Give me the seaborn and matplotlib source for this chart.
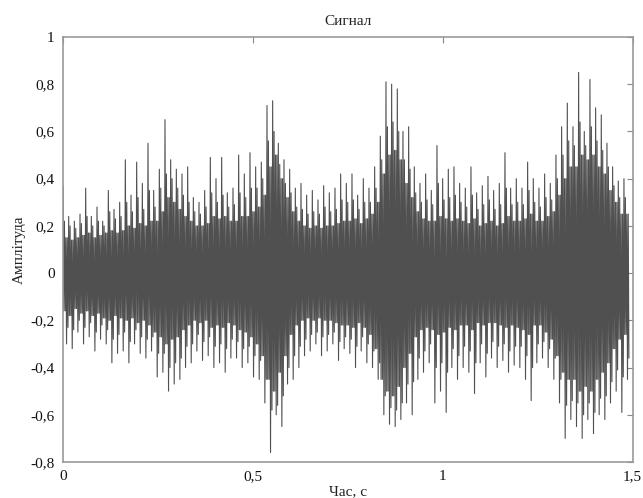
import numpy as np
import pandas as pd
import matplotlib
matplotlib.use("Agg")
import matplotlib.pyplot as plt
import seaborn as sns

# envelope of the signal, one value per 0.015 s
peak_hi = [0.37, 0.24, 0.22, 0.25, 0.36, 0.24, 0.28, 0.22, 0.35, 0.27,
           0.30, 0.48, 0.33, 0.47, 0.38, 0.55, 0.35, 0.44, 0.65, 0.48,
           0.44, 0.42, 0.45, 0.32, 0.30, 0.35, 0.49, 0.40, 0.49, 0.34,
           0.36, 0.50, 0.42, 0.51, 0.45, 0.47, 0.71, 0.73, 0.55, 0.48,
           0.44, 0.36, 0.38, 0.33, 0.35, 0.31, 0.37, 0.34, 0.36, 0.42,
           0.38, 0.42, 0.33, 0.40, 0.36, 0.45, 0.58, 0.81, 0.80, 0.78,
           0.60, 0.62, 0.45, 0.38, 0.42, 0.35, 0.54, 0.40, 0.44, 0.45,
           0.38, 0.36, 0.45, 0.34, 0.37, 0.41, 0.35, 0.38, 0.51, 0.36,
           0.40, 0.36, 0.47, 0.40, 0.36, 0.42, 0.38, 0.50, 0.62, 0.72,
           0.62, 0.85, 0.60, 0.82, 0.70, 0.67, 0.55, 0.45, 0.39, 0.40]
peak_lo = [-0.30, -0.32, -0.25, -0.30, -0.27, -0.33, -0.28, -0.30, -0.38, -0.34,
           -0.33, -0.38, -0.30, -0.34, -0.36, -0.33, -0.44, -0.42, -0.50, -0.47,
           -0.45, -0.40, -0.38, -0.33, -0.37, -0.35, -0.40, -0.38, -0.42, -0.36,
           -0.36, -0.40, -0.38, -0.44, -0.45, -0.55, -0.76, -0.60, -0.65, -0.47,
           -0.45, -0.40, -0.35, -0.33, -0.30, -0.35, -0.33, -0.30, -0.37, -0.32,
           -0.34, -0.40, -0.33, -0.38, -0.40, -0.45, -0.60, -0.64, -0.65, -0.62,
           -0.55, -0.60, -0.45, -0.42, -0.38, -0.55, -0.50, -0.59, -0.40, -0.45,
           -0.40, -0.42, -0.51, -0.38, -0.44, -0.36, -0.40, -0.37, -0.42, -0.39,
           -0.40, -0.45, -0.54, -0.38, -0.36, -0.40, -0.45, -0.55, -0.70, -0.62,
           -0.65, -0.70, -0.62, -0.68, -0.60, -0.62, -0.55, -0.50, -0.59, -0.45]
# second-tallest spikes in each slice
mid_hi = [0.22, 0.20, 0.19, 0.21, 0.24, 0.20, 0.22, 0.20, 0.26, 0.23,
          0.24, 0.30, 0.26, 0.32, 0.27, 0.35, 0.28, 0.36, 0.42, 0.40,
          0.36, 0.33, 0.30, 0.26, 0.25, 0.28, 0.34, 0.30, 0.33, 0.28,
          0.29, 0.34, 0.32, 0.36, 0.36, 0.40, 0.56, 0.60, 0.46, 0.38,
          0.34, 0.28, 0.27, 0.25, 0.26, 0.25, 0.28, 0.26, 0.27, 0.31,
          0.30, 0.31, 0.27, 0.30, 0.30, 0.36, 0.48, 0.62, 0.64, 0.60,
          0.48, 0.44, 0.34, 0.30, 0.31, 0.29, 0.38, 0.31, 0.32, 0.33,
          0.30, 0.28, 0.33, 0.27, 0.29, 0.31, 0.27, 0.29, 0.36, 0.29,
          0.30, 0.29, 0.35, 0.30, 0.28, 0.32, 0.31, 0.40, 0.50, 0.56,
          0.54, 0.64, 0.54, 0.62, 0.56, 0.52, 0.45, 0.37, 0.32, 0.32]
mid_lo = [-0.23, -0.24, -0.20, -0.23, -0.21, -0.25, -0.22, -0.24, -0.28, -0.26,
          -0.25, -0.29, -0.24, -0.27, -0.28, -0.27, -0.34, -0.34, -0.40, -0.38,
          -0.36, -0.31, -0.30, -0.26, -0.29, -0.27, -0.31, -0.30, -0.32, -0.28,
          -0.29, -0.32, -0.31, -0.35, -0.37, -0.45, -0.58, -0.56, -0.52, -0.40,
          -0.35, -0.31, -0.28, -0.26, -0.25, -0.27, -0.26, -0.25, -0.29, -0.27,
          -0.28, -0.31, -0.27, -0.30, -0.33, -0.38, -0.52, -0.57, -0.58, -0.55,
          -0.47, -0.46, -0.36, -0.33, -0.30, -0.40, -0.38, -0.42, -0.32, -0.35,
          -0.31, -0.33, -0.38, -0.30, -0.34, -0.29, -0.31, -0.30, -0.33, -0.31,
          -0.31, -0.35, -0.40, -0.30, -0.29, -0.32, -0.36, -0.45, -0.56, -0.54,
          -0.55, -0.60, -0.55, -0.59, -0.53, -0.52, -0.46, -0.41, -0.44, -0.36]
# edge of the dark body
core_hi = [0.15, 0.14, 0.15, 0.16, 0.17, 0.15, 0.16, 0.17, 0.18, 0.17,
           0.18, 0.20, 0.19, 0.21, 0.20, 0.22, 0.22, 0.26, 0.32, 0.30,
           0.27, 0.24, 0.22, 0.20, 0.20, 0.21, 0.24, 0.23, 0.24, 0.22,
           0.22, 0.24, 0.24, 0.26, 0.28, 0.33, 0.45, 0.50, 0.40, 0.32,
           0.26, 0.22, 0.20, 0.19, 0.20, 0.19, 0.20, 0.20, 0.21, 0.22,
           0.22, 0.23, 0.21, 0.23, 0.25, 0.30, 0.42, 0.50, 0.52, 0.48,
           0.38, 0.32, 0.26, 0.23, 0.22, 0.22, 0.24, 0.23, 0.22, 0.23,
           0.22, 0.21, 0.23, 0.20, 0.21, 0.22, 0.20, 0.21, 0.24, 0.22,
           0.22, 0.23, 0.25, 0.22, 0.22, 0.24, 0.26, 0.33, 0.40, 0.45,
           0.45, 0.50, 0.48, 0.50, 0.45, 0.42, 0.35, 0.30, 0.25, 0.25]
core_lo = [-0.16, -0.18, -0.15, -0.17, -0.16, -0.18, -0.17, -0.19, -0.20, -0.18,
           -0.19, -0.20, -0.19, -0.21, -0.20, -0.22, -0.25, -0.27, -0.30, -0.28,
           -0.27, -0.24, -0.22, -0.20, -0.21, -0.20, -0.23, -0.22, -0.23, -0.21,
           -0.22, -0.24, -0.25, -0.27, -0.30, -0.35, -0.45, -0.50, -0.42, -0.35,
           -0.26, -0.22, -0.20, -0.19, -0.20, -0.19, -0.20, -0.20, -0.21, -0.22,
           -0.22, -0.23, -0.21, -0.23, -0.26, -0.32, -0.45, -0.50, -0.52, -0.48,
           -0.40, -0.34, -0.27, -0.24, -0.23, -0.24, -0.26, -0.25, -0.23, -0.24,
           -0.22, -0.22, -0.24, -0.21, -0.22, -0.21, -0.21, -0.22, -0.23, -0.22,
           -0.23, -0.24, -0.26, -0.22, -0.22, -0.25, -0.28, -0.35, -0.42, -0.45,
           -0.45, -0.50, -0.48, -0.50, -0.45, -0.42, -0.38, -0.32, -0.28, -0.26]

x_ticks = [0, 0.5, 1, 1.5]
x_labels = ["0", "0,5", "1", "1,5"]
y_ticks = [-0.8, -0.6, -0.4, -0.2, 0, 0.2, 0.4, 0.6, 0.8, 1]
y_labels = ["-0,8", "-0,6", "-0,4", "-0,2", "0", "0,2", "0,4", "0,6", "0,8", "1"]

# order of the samples inside each 0.015 s slice
amp = np.column_stack([peak_hi, core_lo, mid_hi, core_lo,
                       core_hi, peak_lo, core_hi, mid_lo]).ravel()
t = np.linspace(0, 1.49, len(amp))
df = pd.DataFrame({"t": t, "amp": amp})

sns.set_style("white")
plt.rcParams["font.family"] = ["Liberation Serif", "DejaVu Serif"]

fig = plt.figure(figsize=(6.43, 4.98), dpi=100)
ax = fig.add_axes([0.098, 0.0723, 0.886, 0.8534])
sns.lineplot(data=df, x="t", y="amp", estimator=None, sort=False,
             color="#505050", linewidth=0.8, ax=ax)

ax.set_xlim(0, 1.5)
ax.set_ylim(-0.8, 1)
ax.set_xticks(x_ticks)
ax.set_xticklabels(x_labels)
ax.set_yticks(y_ticks)
ax.set_yticklabels(y_labels)
ax.tick_params(direction="in", length=4, width=0.8, color="#888888",
               top=True, right=True, labelsize=11, labelcolor="#111111", pad=6)
for s in ax.spines.values():
    s.set_color("#999999")
    s.set_linewidth(1.2)

ax.set_title("Сигнал", fontsize=11, color="#222222", pad=9)
ax.set_xlabel("Час, с", fontsize=11, color="#222222", labelpad=1)
ax.set_ylabel("Амплітуда", fontsize=11, color="#222222", labelpad=3)

fig.savefig("out.png", dpi=100)
